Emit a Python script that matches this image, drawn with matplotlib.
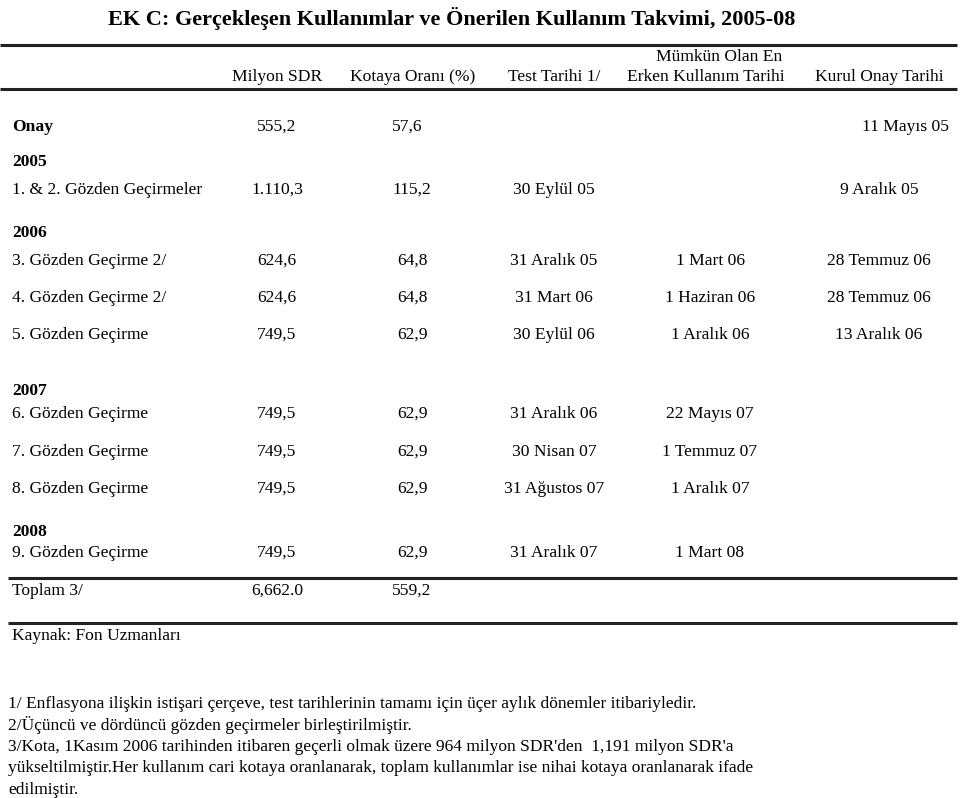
import matplotlib
matplotlib.use("Agg")
import matplotlib.pyplot as plt

plt.rcParams["font.family"] = ["Liberation Serif", "DejaVu Serif"]

TITLE = "EK C: Gerçekleşen Kullanımlar ve Önerilen Kullanım Takvimi, 2005-08"
HEADERS = ["Milyon SDR", "Kotaya Oranı (%)", "Test Tarihi 1/",
           "Erken Kullanım Tarihi", "Kurul Onay Tarihi"]
HEADER_TOP = "Mümkün Olan En"

# section headings (year), shown above the first row of each group
groups = ["", "2005", "2006", "", "", "2007", "", "", "2008"]
labels = ["Onay", "1. & 2. Gözden Geçirmeler", "3. Gözden Geçirme 2/",
          "4. Gözden Geçirme 2/", "5. Gözden Geçirme", "6. Gözden Geçirme",
          "7. Gözden Geçirme", "8. Gözden Geçirme", "9. Gözden Geçirme"]
sdr = ["555,2", "1.110,3", "624,6", "624,6", "749,5", "749,5", "749,5", "749,5", "749,5"]
quota_pct = ["57,6", "115,2", "64,8", "64,8", "62,9", "62,9", "62,9", "62,9", "62,9"]
test_dates = ["", "30 Eylül 05", "31 Aralık 05", "31 Mart 06", "30 Eylül 06",
              "31 Aralık 06", "30 Nisan 07", "31 Ağustos 07", "31 Aralık 07"]
earliest = ["", "", "1 Mart 06", "1 Haziran 06", "1 Aralık 06",
            "22 Mayıs 07", "1 Temmuz 07", "1 Aralık 07", "1 Mart 08"]
board = ["11 Mayıs 05", "9 Aralık 05", "28 Temmuz 06", "28 Temmuz 06", "13 Aralık 06",
         "", "", "", ""]
total_label = "Toplam 3/"
total_sdr = "6,662.0"
total_pct = "559,2"
source = "Kaynak: Fon Uzmanları"
notes = [
    "1/ Enflasyona ilişkin istişari çerçeve, test tarihlerinin tamamı için üçer aylık dönemler itibariyledir.",
    "2/Üçüncü ve dördüncü gözden geçirmeler birleştirilmiştir.",
    "3/Kota, 1Kasım 2006 tarihinden itibaren geçerli olmak üzere 964 milyon SDR'den  1,191 milyon SDR'a",
    "yükseltilmiştir.Her kullanım cari kotaya oranlanarak, toplam kullanımlar ise nihai kotaya oranlanarak ifade",
    "edilmiştir.",
]

# layout (pixel coordinates of the 960x798 page)
col_x = [277, 412, 554, 710, 879]
head_x = [277, 413, 554, 706, 879]
row_y = [127, 190, 261, 298, 335, 414, 452, 489, 553]
group_y = [None, 162, 233, None, None, 391, None, None, 532]
FS = 12.6

fig = plt.figure(figsize=(9.6, 7.98), dpi=100)
ax = fig.add_axes([0, 0, 1, 1])
ax.set_xlim(0, 960)
ax.set_ylim(798, 0)
ax.axis("off")

ax.text(452, 18, TITLE, ha="center", va="center", fontsize=16, fontweight="bold")

# rules
for y, x0 in [(45, 0), (89, 0), (578, 8), (623, 8)]:
    ax.plot([x0, 957], [y, y], color="#222222", lw=2.2, solid_capstyle="butt")

for x, h in zip(head_x, HEADERS):
    ax.text(x, 77, h, ha="center", va="center", fontsize=FS)
ax.text(719, 57, HEADER_TOP, ha="center", va="center", fontsize=FS)

for i, lab in enumerate(labels):
    y = row_y[i]
    if groups[i]:
        ax.text(12, group_y[i], groups[i], ha="left", va="center",
                fontsize=FS, fontweight="bold")
    ax.text(12, y, lab, ha="left", va="center", fontsize=FS,
            fontweight="bold" if lab == "Onay" else "normal")
    xs = list(col_x)
    if i == 0:
        xs[1] = 407
        xs[4] = 905
    for x, val in zip(xs, [sdr[i], quota_pct[i], test_dates[i], earliest[i], board[i]]):
        if val:
            ax.text(x, y, val, ha="center", va="center", fontsize=FS)

ax.text(12, 591, total_label, ha="left", va="center", fontsize=FS)
ax.text(col_x[0], 591, total_sdr, ha="center", va="center", fontsize=FS)
ax.text(col_x[1], 591, total_pct, ha="center", va="center", fontsize=FS)

ax.text(12, 636, source, ha="left", va="center", fontsize=FS)

for j, line in enumerate(notes):
    ax.text(8, 704 + j * 21.5, line, ha="left", va="center", fontsize=12.5)

fig.savefig("out.png", dpi=100)
